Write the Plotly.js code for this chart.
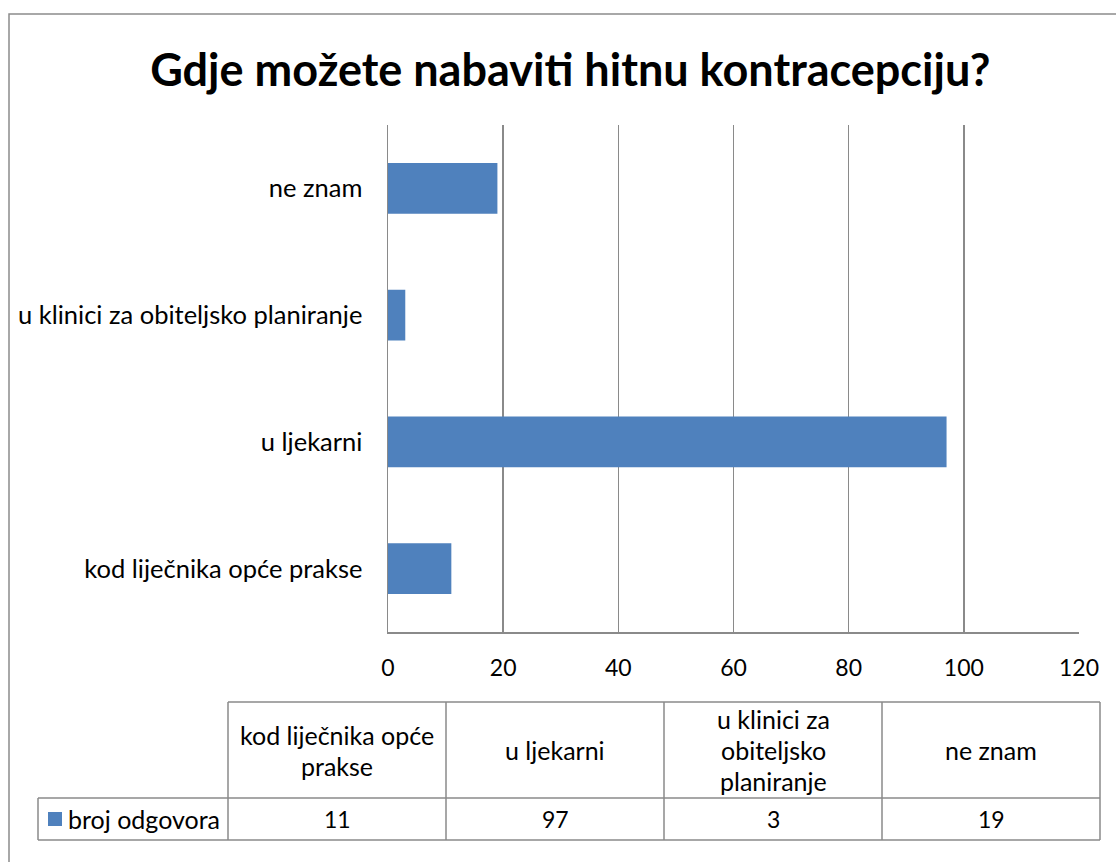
<!DOCTYPE html>
<html>
<head>
<meta charset="utf-8">
<script src="https://cdn.plot.ly/plotly-3.0.1.min.js"></script>
<style>html,body{margin:0;padding:0;background:#fff;}#chart{width:1116px;height:862px;}</style>
</head>
<body>
<div id="chart"></div>
<script>
// Data
const categories = ["kod liječnika opće prakse", "u ljekarni", "u klinici za obiteljsko planiranje", "ne znam"];
const values = [11, 97, 3, 19];
const seriesName = "broj odgovora";
const tableHeaderLines = [["kod liječnika opće", "prakse"], ["u ljekarni"], ["u klinici za", "obiteljsko", "planiranje"], ["ne znam"]];
const xTicks = [0, 20, 40, 60, 80, 100, 120];
const titleText = "Gdje možete nabaviti hitnu kontracepciju?";

const W = 1116, H = 862;
const FONT = "Lato, 'Noto Sans', sans-serif";
const GRID = "#8a8a8a";
const BAR = "#4F81BD";
const px = x => x / W;
const py = y => 1 - y / H;

const shapes = [];
const annotations = [];

// outer chart border (left & top visible)
shapes.push({type: 'rect', xref: 'paper', yref: 'paper', x0: px(9), x1: px(1130), y0: py(14), y1: py(880),
  line: {color: '#8c8c8c', width: 1.5}, fillcolor: 'rgba(0,0,0,0)', layer: 'below'});

// data table geometry
const tLeft = 228, colW = 218, hTop = 702, hBot = 798, rBot = 840, legLeft = 38;
const tRight = tLeft + colW * categories.length;
const lineStyle = {color: GRID, width: 1.5};
function seg(x0, y0, x1, y1) {
  shapes.push({type: 'line', xref: 'paper', yref: 'paper', x0: px(x0), x1: px(x1), y0: py(y0), y1: py(y1), line: lineStyle});
}
seg(tLeft, hTop, tRight, hTop);
seg(legLeft, hBot, tRight, hBot);
seg(legLeft, rBot, tRight, rBot);
seg(legLeft, hBot, legLeft, rBot);
for (let i = 0; i <= categories.length; i++) seg(tLeft + colW * i, hTop, tLeft + colW * i, rBot);

const lineH = 31;
const TFS = 25;
categories.forEach((c, i) => {
  const cx = tLeft + colW * (i + 0.5);
  const lines = tableHeaderLines[i];
  const mid = (hTop + hBot) / 2;
  lines.forEach((t, j) => {
    const y = mid + (j - (lines.length - 1) / 2) * lineH;
    annotations.push({xref: 'paper', yref: 'paper', x: px(cx), y: py(y), text: t, showarrow: false,
      xanchor: 'center', yanchor: 'middle', font: {family: FONT, size: TFS, color: '#000'}});
  });
  annotations.push({xref: 'paper', yref: 'paper', x: px(cx), y: py((hBot + rBot) / 2), text: String(values[i]), showarrow: false,
    xanchor: 'center', yanchor: 'middle', font: {family: FONT, size: 23, color: '#000'}});
});
// legend key in table
shapes.push({type: 'rect', xref: 'paper', yref: 'paper', x0: px(48), x1: px(62), y0: py(826), y1: py(812),
  line: {width: 0}, fillcolor: BAR});
annotations.push({xref: 'paper', yref: 'paper', x: px(66), y: py(819), text: seriesName, showarrow: false,
  xanchor: 'left', yanchor: 'middle', font: {family: FONT, size: TFS, color: '#000'}});

const trace = {
  type: 'bar', orientation: 'h', x: values, y: categories, name: seriesName,
  marker: {color: BAR, line: {width: 0}}, hoverinfo: 'x+y'
};

const layout = {
  width: W, height: H,
  margin: {l: 0, r: 0, t: 0, b: 0},
  paper_bgcolor: '#fff', plot_bgcolor: '#fff',
  showlegend: false,
  bargap: 0.6,
  title: {text: '<b>' + titleText + '</b>', x: 0.511, xanchor: 'center', y: py(70), yanchor: 'middle',
    font: {family: FONT, size: 45, color: '#000'}},
  xaxis: {domain: [px(388), px(1079)], range: [0, 120], tickvals: xTicks, ticktext: xTicks.map(String),
    showgrid: true, gridcolor: GRID, gridwidth: 1.5, zeroline: false,
    showline: true, linecolor: GRID, linewidth: 1.5, ticks: '', ticklabelstandoff: 15,
    tickfont: {family: FONT, size: 23, color: '#000'}, fixedrange: true},
  yaxis: {domain: [py(632), py(125)], type: 'category', categoryorder: 'array', categoryarray: categories,
    showline: true, linecolor: GRID, linewidth: 1.5, showgrid: false, ticks: '', ticklabelstandoff: 19,
    tickfont: {family: FONT, size: 25.5, color: '#000'}, fixedrange: true},
  shapes: shapes,
  annotations: annotations
};

Plotly.newPlot('chart', [trace], layout, {displayModeBar: false, staticPlot: true});
</script>
</body>
</html>
